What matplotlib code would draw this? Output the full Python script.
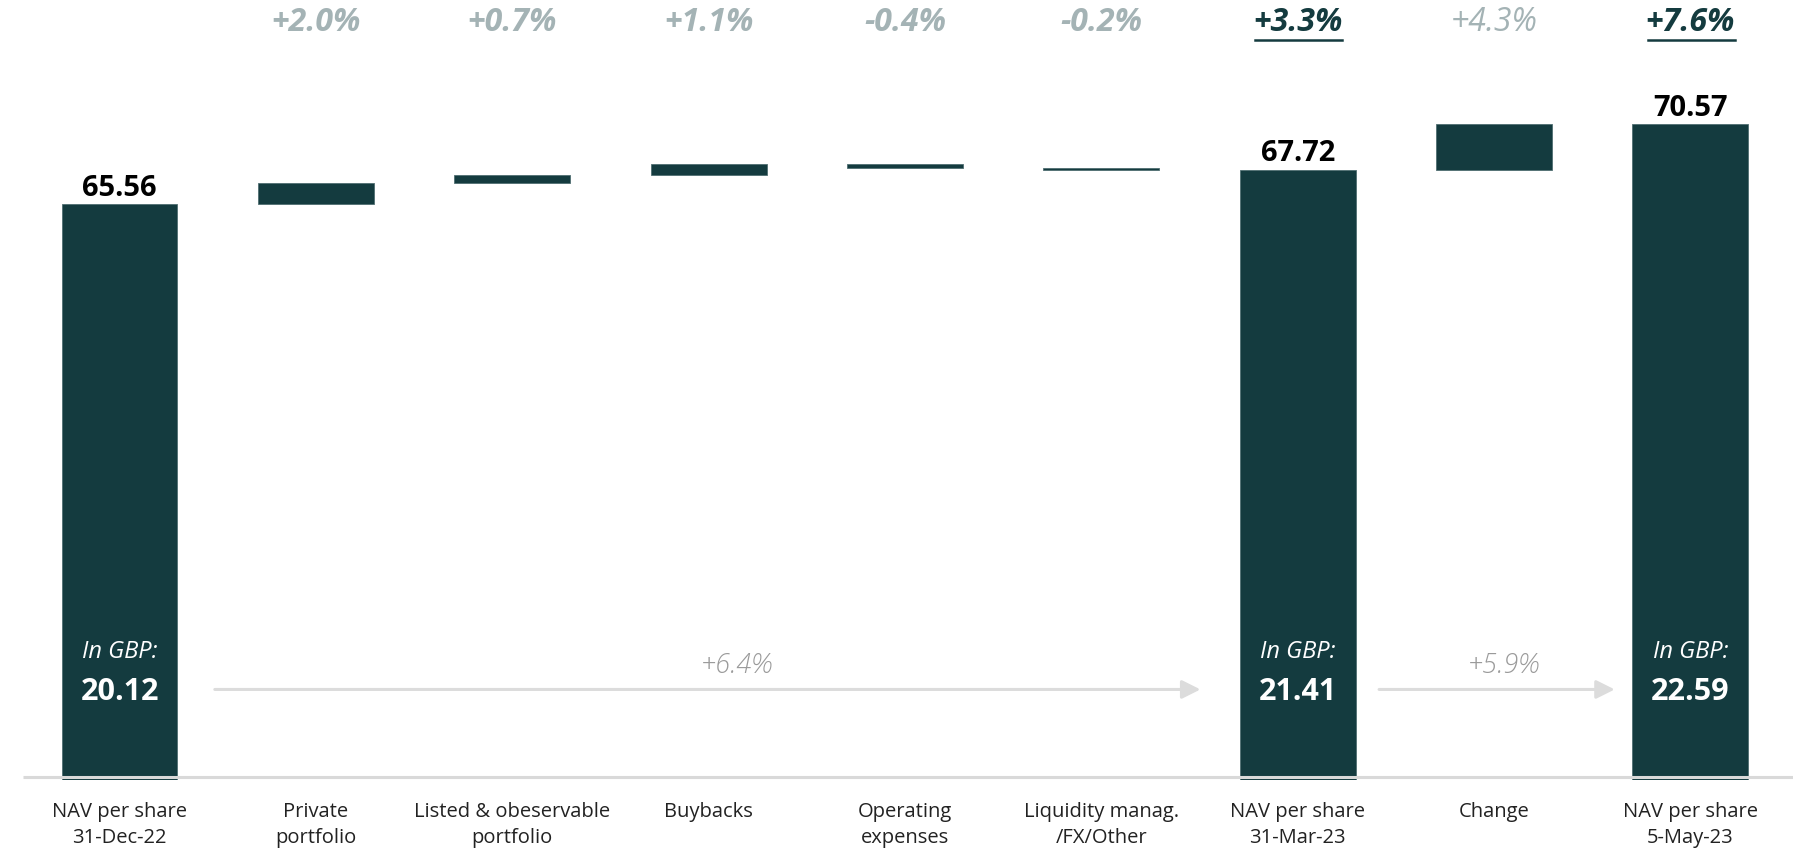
"""NAV per share bridge, 31-Dec-22 to 5-May-23, drawn as a waterfall."""

import matplotlib

matplotlib.use("Agg")
import matplotlib.pyplot as plt
from matplotlib.lines import Line2D

# --- data -------------------------------------------------------------------
categories = [
    "NAV per share\n31-Dec-22",
    "Private\nportfolio",
    "Listed & obeservable\nportfolio",
    "Buybacks",
    "Operating\nexpenses",
    "Liquidity manag.\n/FX/Other",
    "NAV per share\n31-Mar-23",
    "Change",
    "NAV per share\n5-May-23",
]
# None marks a total bar; other entries are the step change in EUR
steps = [65.56, 1.34, 0.46, 0.72, -0.26, -0.10, None, 2.85, None]
totals = [65.56, None, None, None, None, None, 67.72, None, 70.57]
pct_labels = ["", "+2.0%", "+0.7%", "+1.1%", "-0.4%", "-0.2%", "+3.3%", "+4.3%", "+7.6%"]
pct_emphasis = [False, False, False, False, False, False, True, False, True]
gbp_values = {0: "20.12", 6: "21.41", 8: "22.59"}
gbp_arrows = [(0, 6, "+6.4%"), (6, 8, "+5.9%")]

# --- style ------------------------------------------------------------------
DARK = "#143b3f"
GREY_PCT = "#a4b3b5"
ARROW_GREY = "#dcdcdc"
AXIS_GREY = "#d9d9d9"
FONT = "Open Sans"
BAR_W = 0.59
Y_LO, Y_HI = 29.5, 78.34
ARROW_GAPS = [(0.19, 0.20), (0.12, 0.09)]

fig = plt.figure(figsize=(17.93, 8.58), dpi=100)
ax = fig.add_axes([0.0, 0.0909, 1.0, 0.9091])
ax.set_xlim(-0.609, 8.523)
ax.set_ylim(Y_LO, Y_HI)

# running totals for the floating bars
bottoms, heights = [], []
running = 0.0
for i, step in enumerate(steps):
    if totals[i] is not None:
        running = totals[i]
        bottoms.append(0.0)
        heights.append(totals[i])
    else:
        new = running + step
        bottoms.append(min(running, new))
        heights.append(abs(step))
        running = new

x = list(range(len(categories)))
ax.bar(x, heights, bottom=bottoms, width=BAR_W, color=DARK,
       edgecolor="#4f6e71", linewidth=0.6, zorder=2)

# baseline
ax.hlines(Y_LO + 0.19, -0.49, 8.523, color=AXIS_GREY, lw=2.2, zorder=3)

# value labels on totals
for i, t in enumerate(totals):
    if t is None:
        continue
    ax.annotate(f"{t:.2f}", (i, t), xytext=(0, 6), textcoords="offset points",
                ha="center", va="baseline", fontsize=21, fontweight="bold",
                color="black", family=FONT)

# percentage row at the top
pct_y = Y_LO + 47.4
pct_texts = []
for i, lab in enumerate(pct_labels):
    if not lab:
        continue
    if pct_emphasis[i]:
        t = ax.text(i, pct_y, lab, ha="center", va="center", fontsize=23,
                    style="italic", fontweight="bold", color=DARK, family=FONT)
        pct_texts.append(t)
    else:
        weight = "normal" if i == 7 else "bold"
        ax.text(i, pct_y, lab, ha="center", va="center", fontsize=23,
                style="italic", fontweight=weight, color=GREY_PCT, family=FONT)

# GBP values inside the total bars
for i, val in gbp_values.items():
    ax.text(i, 37.5, "In GBP:", ha="center", va="center", fontsize=17,
            style="italic", color="white", family=FONT)
    ax.text(i, 35.0, val, ha="center", va="center", fontsize=22,
            fontweight="bold", color="white", family=FONT)

# grey arrows between the GBP figures
for (start, end, lab), (g0, g1) in zip(gbp_arrows, ARROW_GAPS):
    x0 = start + BAR_W / 2 + g0
    x1 = end - BAR_W / 2 - g1
    ax.annotate("", xy=(x1, 35.17), xytext=(x0, 35.17),
                arrowprops=dict(arrowstyle="-|>", color=ARROW_GREY, lw=2.2,
                                mutation_scale=28, shrinkA=0, shrinkB=0))
    ax.text(x0 + 0.53 * (x1 - x0), 36.64, lab, ha="center", va="center",
            fontsize=19.5, style="italic", fontweight="light", color="#9a9a9a",
            family=FONT)

# category labels
ax.set_xticks(x)
ax.set_xticklabels(categories, fontsize=14.5, color="#222222", family=FONT,
                   linespacing=1.4)
ax.tick_params(axis="x", length=0, pad=16)
ax.set_yticks([])
for side in ("top", "right", "left", "bottom"):
    ax.spines[side].set_visible(False)

# underline the emphasised percentages
fig.canvas.draw()
renderer = fig.canvas.get_renderer()
for t in pct_texts:
    bb = t.get_window_extent(renderer)
    y = bb.y0 - 1
    fig.add_artist(Line2D([bb.x0 + 2, bb.x1], [y, y], transform=None,
                          color=DARK, lw=1.8))

fig.savefig("out.png", dpi=100)
